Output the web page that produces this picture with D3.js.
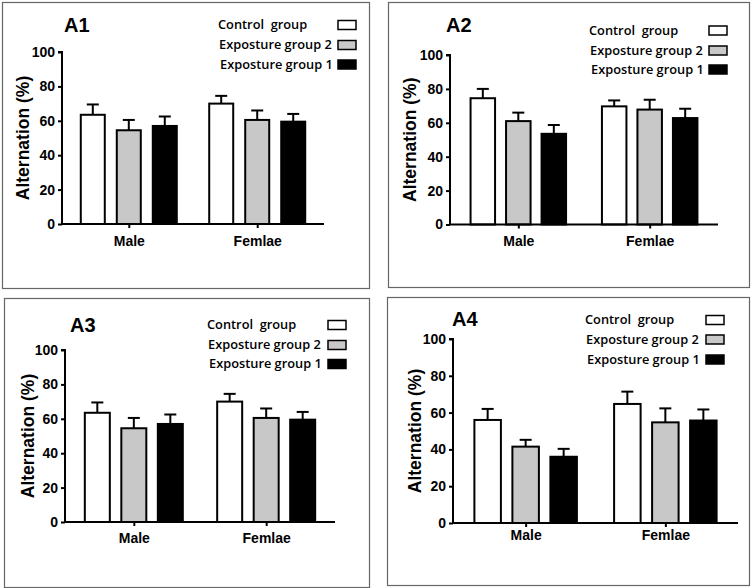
<!DOCTYPE html>
<html><head><meta charset="utf-8">
<script src="https://cdn.jsdelivr.net/npm/d3@7"></script>
<style>
html,body{margin:0;padding:0;background:#fff;}
svg{display:block;}
</style></head>
<body>
<svg id="chart" width="752" height="588"></svg>
<script>
// ---- data ----
const categories = ["Male", "Femlae"];
const groups = ["Control  group", "Exposture group 2", "Exposture group 1"];
const yTicks = [0, 20, 40, 60, 80, 100];
const panelTitles = ["A1", "A2", "A3", "A4"];
const yLabel = "Alternation (%)";

// means [category][group], upper error (SEM)
const a1Means = [[63.5, 54.5, 57.0], [70.0, 60.5, 59.5]];
const a1Errs  = [[6.0, 6.0, 5.5], [4.5, 5.5, 4.5]];
const a2Means = [[74.5, 61.0, 53.5], [69.7, 67.8, 62.8]];
const a2Errs  = [[5.5, 5.0, 5.2], [3.5, 5.8, 5.5]];
const a3Means = [[63.5, 54.5, 57.0], [70.0, 60.5, 59.5]];
const a3Errs  = [[6.0, 6.0, 5.5], [4.5, 5.5, 4.5]];
const a4Means = [[56.0, 41.5, 36.0], [64.7, 54.7, 55.7]];
const a4Errs  = [[6.0, 3.7, 4.3], [6.7, 7.6, 6.0]];

const panelMeans = [a1Means, a2Means, a3Means, a4Means];
const panelErrs = [a1Errs, a2Errs, a3Errs, a4Errs];

// ---- layout / style ----
const groupFill = ["#ffffff", "#c8c8c8", "#000000"];
const layout = [
  {box:[2,2,369,288], plot:{l:62,r:324,t:52,b:224}, gap:36, barW:24, titleX:64, titleY:32,
   legX:218, legBoxX:338, legY:[25,45,64.5], yLabX:23, catDy:22},
  {box:[388,2,749,287], plot:{l:450,r:718,t:55,b:224.5}, gap:35.5, barW:24.5, titleX:446, titleY:32,
   legX:589, legBoxX:709, legY:[30.5,50.5,69.5], yLabX:410, catDy:22},
  {box:[4,298,369,587], plot:{l:65,r:335,t:350,b:522}, gap:36.5, barW:25, titleX:70, titleY:332,
   legX:207, legBoxX:328, legY:[325,345,364], yLabX:28, catDy:21},
  {box:[387,297,749,585], plot:{l:453,r:738,t:339,b:523}, gap:38, barW:26.5, titleX:452, titleY:326,
   legX:585, legBoxX:706, legY:[320,339.5,359.5], yLabX:415, catDy:17}
];

const svg = d3.select("#chart");
const FONT = "'Liberation Sans', Arial, sans-serif";
const LFONT = "'Open Sans', 'Liberation Sans', sans-serif";

layout.forEach((L, pi) => {
  const means = panelMeans[pi], errs = panelErrs[pi];
  const g = svg.append("g");
  g.append("rect")
    .attr("x", L.box[0] + 0.5).attr("y", L.box[1] + 0.5)
    .attr("width", L.box[2] - L.box[0]).attr("height", L.box[3] - L.box[1])
    .attr("fill", "none").attr("stroke", "#666").attr("stroke-width", 1.2);

  const p = L.plot;
  const y = d3.scaleLinear().domain([0, 100]).range([p.b, p.t]);
  const x = d3.scalePoint().domain(categories).range([p.l, p.r]).padding(0.52);
  const xi = d3.scalePoint().domain(groups).range([-L.gap, L.gap]);

  categories.forEach((c, ci) => {
    groups.forEach((gr, gi) => {
      const cx = x(c) + xi(gr);
      const v = means[ci][gi], e = errs[ci][gi];
      g.append("line").attr("x1", cx).attr("x2", cx)
        .attr("y1", y(v)).attr("y2", y(v + e))
        .attr("stroke", "#000").attr("stroke-width", 2);
      g.append("line").attr("x1", cx - 6).attr("x2", cx + 6)
        .attr("y1", y(v + e)).attr("y2", y(v + e))
        .attr("stroke", "#000").attr("stroke-width", 2);
      g.append("rect")
        .attr("x", cx - L.barW / 2).attr("y", y(v))
        .attr("width", L.barW).attr("height", y(0) - y(v))
        .attr("fill", groupFill[gi]).attr("stroke", "#000").attr("stroke-width", 2);
    });
  });

  const ya = g.append("g").attr("transform", `translate(${p.l},0)`)
    .call(d3.axisLeft(y).tickValues(yTicks).tickSize(4).tickPadding(3).tickFormat(d3.format("d")));
  ya.select(".domain").attr("d", `M-4,${p.t}H0V${p.b}`).attr("stroke-width", 2);
  ya.selectAll(".tick line").attr("stroke-width", 2);
  ya.selectAll("text").attr("font-family", FONT).attr("font-weight", "bold")
    .attr("font-size", 14).attr("fill", "#000");

  const xa = g.append("g").attr("transform", `translate(0,${p.b})`)
    .call(d3.axisBottom(x).tickSize(4).tickPadding(L.catDy - 14));
  xa.select(".domain").attr("d", `M${p.l},0H${p.r}`).attr("stroke-width", 2);
  xa.selectAll(".tick line").attr("stroke-width", 2);
  xa.selectAll("text").attr("font-family", FONT).attr("font-weight", "bold")
    .attr("font-size", 14).attr("fill", "#000");

  g.append("text")
    .attr("transform", `translate(${L.yLabX + 6},${(p.t + p.b) / 2}) rotate(-90)`)
    .attr("text-anchor", "middle")
    .attr("font-family", FONT).attr("font-weight", "bold").attr("font-size", 17.5)
    .text(yLabel);

  g.append("text").attr("x", L.titleX).attr("y", L.titleY)
    .attr("font-family", FONT).attr("font-weight", "bold").attr("font-size", 20)
    .text(panelTitles[pi]);

  groups.forEach((gr, gi) => {
    g.append("text").attr("x", L.legX + gi * 1).attr("y", L.legY[gi]).attr("dy", "0.35em")
      .attr("font-family", LFONT).attr("font-weight", 600).attr("font-size", 12.8)
      .style("white-space", "pre").attr("xml:space", "preserve")
      .text(gr);
    g.append("rect").attr("x", L.legBoxX).attr("y", L.legY[gi] - 4.5)
      .attr("width", 18).attr("height", 9)
      .attr("fill", groupFill[gi]).attr("stroke", "#000").attr("stroke-width", 1.5);
  });
});
</script>
</body></html>
